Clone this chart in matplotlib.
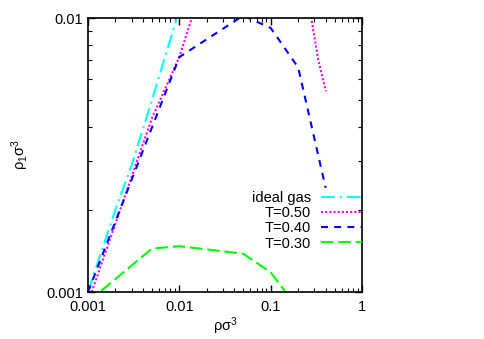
import numpy as np
import matplotlib
matplotlib.use('Agg')
import matplotlib.pyplot as plt

plt.rcParams['font.family'] = ['Liberation Sans', 'DejaVu Sans']
plt.rcParams['lines.scale_dashes'] = False
plt.rcParams['mathtext.default'] = 'regular'

# data
ideal_x = [0.001, 0.002, 0.003, 0.005, 0.0094]
ideal_y = [0.001, 0.002, 0.0029, 0.005, 0.01]

t050_x = [0.0011, 0.005, 0.01, 0.0137]
t050_y = [0.001, 0.0043, 0.0072, 0.01]
t050b_x = [0.277, 0.333, 0.404]
t050b_y = [0.0101, 0.0070, 0.0054]

t040_x = [0.001, 0.01, 0.05, 0.1, 0.2, 0.4]
t040_y = [0.001, 0.0072, 0.0102, 0.0092, 0.0066, 0.0024]

t030_x = [0.001, 0.005, 0.01, 0.05, 0.1, 0.2]
t030_y = [0.00092, 0.00144, 0.00147, 0.00138, 0.00118, 0.00087]

fig = plt.figure(figsize=(4.85, 3.39), dpi=100)
ax = fig.add_axes([0.1814, 0.1386, 0.565, 0.8083])

lw = 1.5
l1, = ax.plot(ideal_x, ideal_y, color='#00ffff', lw=lw, dashes=(10, 3.5, 1.5, 3.5), label='ideal gas')
l2, = ax.plot(t050_x, t050_y, color='#ff00ff', lw=lw, dashes=(1.5, 1.5), label='T=0.50')
ax.plot(t050b_x, t050b_y, color='#ff00ff', lw=lw, dashes=(1.5, 1.5))
l3, = ax.plot(t040_x, t040_y, color='#0000ff', lw=lw, dashes=(5, 4.5), label='T=0.40')
l4, = ax.plot(t030_x, t030_y, color='#00ff00', lw=lw, dashes=(9, 3.5), label='T=0.30')

ax.set_xscale('log')
ax.set_yscale('log')
ax.set_xlim(0.001, 1)
ax.set_ylim(0.001, 0.01)

fs = 10.5
ax.set_xticks([0.001, 0.01, 0.1, 1])
ax.set_xticklabels(['0.001', '0.01', '0.1', '1'])
ax.set_yticks([0.001, 0.01])
ax.set_yticklabels(['0.001', '0.01'])
ax.tick_params(which='both', direction='in', top=True, right=True, labelsize=fs)
ax.tick_params(which='major', length=5, width=1)
ax.tick_params(which='minor', length=3, width=0.8)
ax.tick_params(axis='x', pad=6)
ax.yaxis.set_minor_formatter(matplotlib.ticker.NullFormatter())
ax.xaxis.set_minor_formatter(matplotlib.ticker.NullFormatter())
for s in ax.spines.values():
    s.set_linewidth(1.2)

ax.set_xlabel('ρσ$^3$', fontsize=fs, labelpad=1)
ax.set_ylabel('ρ$_1$σ$^3$', fontsize=fs, labelpad=11)

ax.legend(handles=[l1, l2, l3, l4], loc='upper right', bbox_to_anchor=(1.0, 0.37),
          frameon=False, markerfirst=False, fontsize=fs, handlelength=2.8,
          handletextpad=0.7, labelspacing=0.09, borderpad=0, borderaxespad=0)

fig.savefig('out.png', dpi=100)
